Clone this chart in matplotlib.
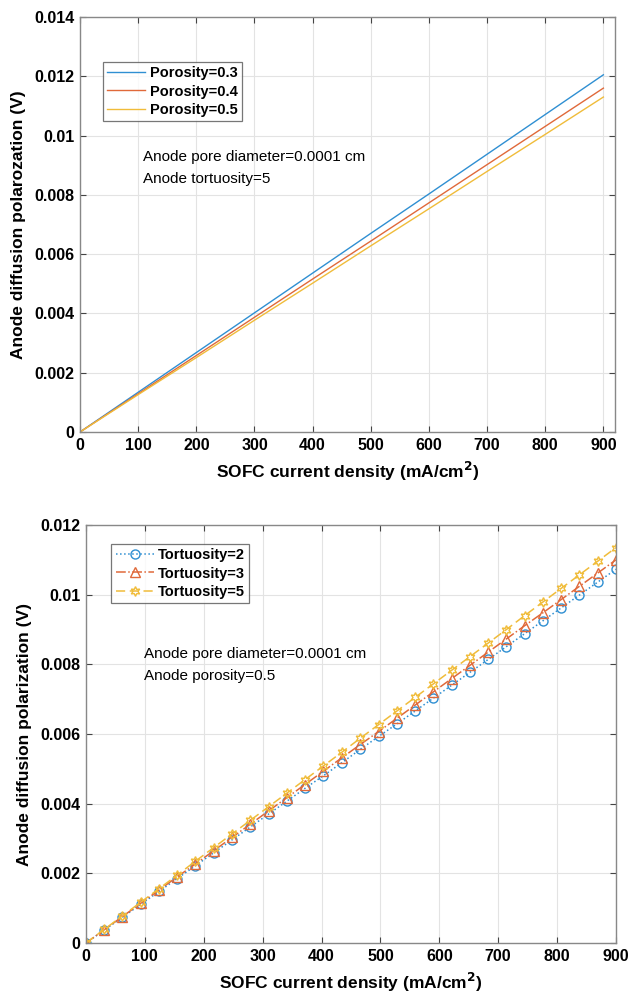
import matplotlib.pyplot as plt

plt.rcParams['font.family'] = ['Liberation Sans', 'DejaVu Sans']

# top panel: porosity
j_top = [0, 100, 200, 300, 400, 500, 600, 700, 800, 900]
por_03 = [0, 0.00134, 0.00268, 0.00402, 0.00536, 0.0067, 0.00803, 0.00937, 0.01071, 0.01205]
por_04 = [0, 0.00129, 0.00258, 0.00387, 0.00516, 0.00644, 0.00773, 0.00902, 0.01031, 0.0116]
por_05 = [0, 0.00126, 0.00251, 0.00377, 0.00502, 0.00628, 0.00753, 0.00879, 0.01004, 0.0113]
por_labels = ['Porosity=0.3', 'Porosity=0.4', 'Porosity=0.5']

# bottom panel: tortuosity
j_bot = [0, 31, 62, 93, 124, 155, 186, 217, 248, 279, 310, 341, 372, 403, 434,
         466, 497, 528, 559, 590, 621, 652, 683, 714, 745, 776, 807, 838, 869, 900]
tor_2 = [0, .00037, .00074, .00111, .00148, .00185, .00222, .00259, .00296, .00333,
         .00370, .00407, .00444, .00480, .00517, .00556, .00593, .00629, .00666, .00703,
         .00740, .00777, .00814, .00851, .00888, .00925, .00962, .00999, .01036, .01073]
tor_3 = [0, .00038, .00076, .00114, .00152, .00190, .00227, .00265, .00303, .00341,
         .00379, .00417, .00455, .00493, .00531, .00570, .00607, .00645, .00683, .00721,
         .00759, .00797, .00835, .00873, .00911, .00948, .00986, .01024, .01062, .01100]
tor_5 = [0, .00039, .00078, .00117, .00156, .00195, .00235, .00274, .00313, .00352,
         .00391, .00430, .00469, .00508, .00547, .00588, .00627, .00666, .00705, .00744,
         .00783, .00822, .00861, .00900, .00940, .00979, .01018, .01057, .01096, .01135]
tor_labels = ['Tortuosity=2', 'Tortuosity=3', 'Tortuosity=5']

colors = ['#2F8FD2', '#E0693A', '#F0BC3A']


def style_axes(ax, ylim, yticks, ylabel):
    ax.set_ylim(*ylim)
    ax.set_yticks(yticks)
    ax.set_yticklabels(['0' if v == 0 else ('%g' % v) for v in yticks])
    ax.set_xticks(range(0, 1000, 100))
    ax.grid(True, color='#e3e3e3', linewidth=0.8)
    ax.set_axisbelow(True)
    ax.tick_params(direction='in', top=True, right=True, length=4, width=0.8,
                   color='#444444', labelsize=11.5, pad=4)
    for lab in ax.get_xticklabels() + ax.get_yticklabels():
        lab.set_fontweight('bold')
    for s in ax.spines.values():
        s.set_color('#888888')
        s.set_linewidth(1.0)
    ax.set_xlabel('SOFC current density (mA/cm$^\\mathbf{2}$)', fontsize=12.5,
                  fontweight='bold', labelpad=5)
    ax.set_ylabel(ylabel, fontsize=12.5, fontweight='bold', labelpad=6)


def add_legend(ax, anchor):
    leg = ax.legend(loc='upper left', bbox_to_anchor=anchor, fancybox=False,
                    edgecolor='#555555', prop={'weight': 'bold', 'size': 10.5},
                    handlelength=2.6, handletextpad=0.3, labelspacing=0.3,
                    borderpad=0.3, borderaxespad=0)
    leg.get_frame().set_linewidth(0.9)
    return leg


fig = plt.figure(figsize=(6.32, 10), dpi=100)

# --- top ---
ax1 = fig.add_axes([0.1266, 0.568, 0.8465, 0.415])
for y, c, lab in zip([por_03, por_04, por_05], colors, por_labels):
    ax1.plot(j_top, y, color=c, linewidth=1.0, label=lab)
ax1.set_xlim(0, 920)
style_axes(ax1, (0, 0.014), [0, 0.002, 0.004, 0.006, 0.008, 0.01, 0.012, 0.014],
           'Anode diffusion polarozation (V)')
add_legend(ax1, (0.043, 0.892))
ax1.text(108, 0.00953, 'Anode pore diameter=0.0001 cm\nAnode tortuosity=5',
         fontsize=11, linespacing=1.75, va='top', ha='left')

# --- bottom ---
ax2 = fig.add_axes([0.136, 0.057, 0.8386, 0.418])
ax2.plot(j_bot, tor_2, color=colors[0], linestyle=':', linewidth=1.1, marker='o',
         markersize=6.5, markerfacecolor='none', markeredgewidth=1.0, label=tor_labels[0])
ax2.plot(j_bot, tor_3, color=colors[1], linestyle='-.', linewidth=1.1, marker='^',
         markersize=6.5, markerfacecolor='none', markeredgewidth=1.0, label=tor_labels[1])
ax2.plot(j_bot, tor_5, color=colors[2], linestyle=(0, (6, 3)), linewidth=1.1,
         marker=(6, 1, 0), markersize=7, markerfacecolor='none', markeredgewidth=1.0,
         label=tor_labels[2])
ax2.set_xlim(0, 900)
style_axes(ax2, (0, 0.012), [0, 0.002, 0.004, 0.006, 0.008, 0.01, 0.012],
           'Anode diffusion polarization (V)')
add_legend(ax2, (0.048, 0.955))
ax2.text(98, 0.0085, 'Anode pore diameter=0.0001 cm\nAnode porosity=0.5',
         fontsize=11, linespacing=1.75, va='top', ha='left')

fig.savefig('out.png', dpi=100)
